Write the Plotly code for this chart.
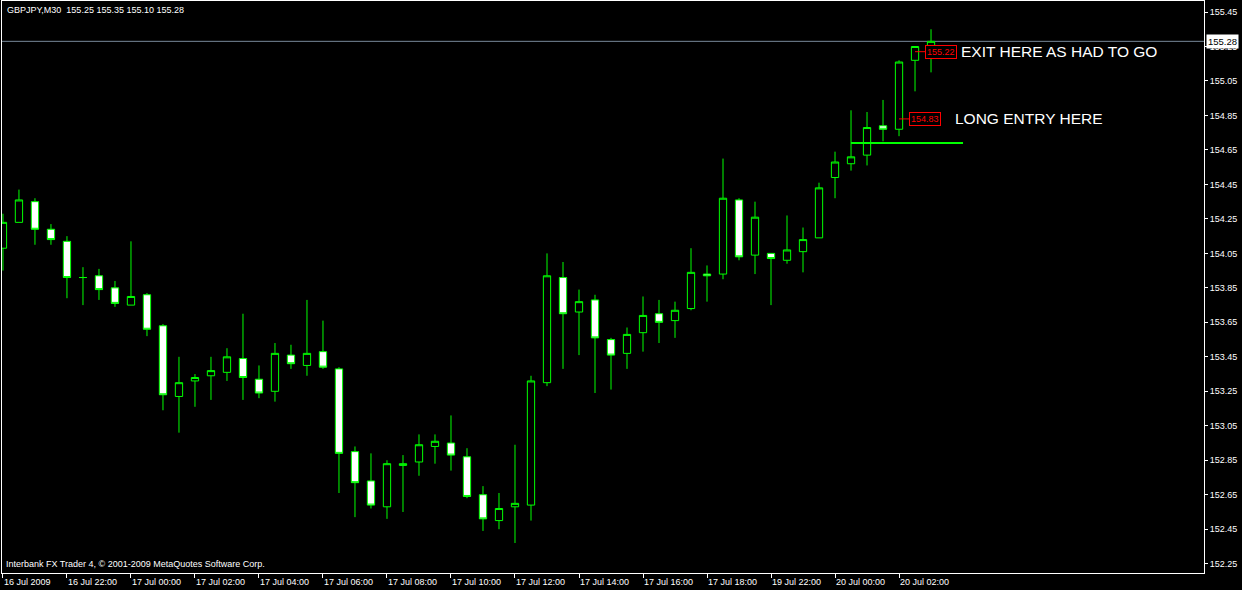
import pandas as pd
import plotly.graph_objects as go

# GBPJPY M30 bars, 16 Jul 20:00 .. 20 Jul 03:00 (weekend gap)
bar_times = list(pd.date_range("2009-07-16 20:00", "2009-07-17 19:30", freq="30min")) + \
    list(pd.date_range("2009-07-19 22:00", "2009-07-20 03:00", freq="30min"))
times = [t.strftime("%d %b %H:%M") for t in bar_times]

opens = [154.08, 154.23, 154.35, 154.19, 154.12, 153.91, 153.92, 153.85, 153.75, 153.81,
         153.63, 153.22, 153.31, 153.34, 153.36, 153.44, 153.32, 153.25, 153.46, 153.40,
         153.48, 153.38, 152.90, 152.73, 152.58, 152.82, 152.84, 152.93, 152.95, 152.87,
         152.65, 152.50, 152.58, 152.59, 153.30, 153.91, 153.71, 153.78, 153.55, 153.47,
         153.59, 153.70, 153.66, 153.73, 153.93, 153.93, 154.36, 154.04, 154.05, 154.01,
         154.06, 154.14, 154.49, 154.57, 154.62, 154.79, 154.77, 155.17, 155.25]
highs = [154.28, 154.42, 154.37, 154.22, 154.15, 153.97, 153.96, 153.89, 154.12, 153.82,
         153.64, 153.45, 153.35, 153.45, 153.50, 153.70, 153.40, 153.53, 153.52, 153.78,
         153.66, 153.39, 152.93, 152.89, 152.85, 152.88, 153.00, 153.00, 153.11, 152.92,
         152.70, 152.66, 152.94, 153.34, 154.05, 154.00, 153.84, 153.81, 153.56, 153.62,
         153.80, 153.78, 153.77, 154.08, 153.98, 154.60, 154.37, 154.35, 154.05, 154.27,
         154.20, 154.46, 154.64, 154.88, 154.87, 154.94, 155.17, 155.25, 155.35]
lows = [153.95, 154.23, 154.10, 154.10, 153.79, 153.75, 153.78, 153.74, 153.75, 153.57,
        153.14, 153.01, 153.16, 153.20, 153.31, 153.20, 153.21, 153.19, 153.38, 153.34,
        153.38, 152.66, 152.52, 152.57, 152.51, 152.55, 152.76, 152.83, 152.79, 152.63,
        152.44, 152.45, 152.37, 152.50, 153.28, 153.38, 153.46, 153.24, 153.26, 153.38,
        153.48, 153.53, 153.56, 153.72, 153.77, 153.90, 154.01, 153.93, 153.75, 153.99,
        153.94, 154.14, 154.37, 154.53, 154.56, 154.70, 154.73, 154.99, 155.10]
closes = [154.23, 154.36, 154.19, 154.13, 153.91, 153.91, 153.84, 153.76, 153.80, 153.61,
          153.23, 153.30, 153.33, 153.37, 153.45, 153.33, 153.24, 153.47, 153.41, 153.47,
          153.39, 152.89, 152.72, 152.59, 152.83, 152.83, 152.94, 152.96, 152.88, 152.64,
          152.51, 152.57, 152.60, 153.31, 153.92, 153.70, 153.77, 153.56, 153.46, 153.58,
          153.69, 153.65, 153.72, 153.94, 153.92, 154.37, 154.03, 154.26, 154.02, 154.07,
          154.13, 154.43, 154.58, 154.61, 154.78, 154.77, 155.16, 155.25, 155.28]

price_ticks = [152.25, 152.45, 152.65, 152.85, 153.05, 153.25, 153.45, 153.65, 153.85,
               154.05, 154.25, 154.45, 154.65, 154.85, 155.05, 155.25, 155.45]
time_tick_labels = ["16 Jul 2009", "16 Jul 22:00", "17 Jul 00:00", "17 Jul 02:00",
                    "17 Jul 04:00", "17 Jul 06:00", "17 Jul 08:00", "17 Jul 10:00",
                    "17 Jul 12:00", "17 Jul 14:00", "17 Jul 16:00", "17 Jul 18:00",
                    "19 Jul 22:00", "20 Jul 00:00", "20 Jul 02:00"]
time_tick_vals = times[::4]

bid_price = 155.28
entry_line_start = "20 Jul 00:30"
entry_line_price = 154.69
entry_line_bars = 7
price_marks = [("20 Jul 02:30", 155.22), ("20 Jul 02:00", 154.83)]
notes = [("EXIT HERE AS HAD TO GO", 155.22, 59.75), ("LONG ENTRY HERE", 154.83, 59.4)]

GREEN = "#00ff00"
FONT = "Liberation Sans"

fig = go.Figure(go.Candlestick(
    x=times, open=opens, high=highs, low=lows, close=closes,
    increasing=dict(line=dict(color=GREEN, width=1), fillcolor="#000000"),
    decreasing=dict(line=dict(color=GREEN, width=1), fillcolor="#ffffff"),
    whiskerwidth=0,
    hoverinfo="skip",
))

# bid line
fig.add_shape(type="line", xref="paper", x0=0, x1=1, y0=bid_price, y1=bid_price,
              line=dict(color="#778899", width=1), layer="below")
fig.add_annotation(xref="paper", x=1, y=bid_price, text="155.28", showarrow=False,
                   xanchor="left", xshift=2, bgcolor="#ffffff", borderpad=1,
                   font=dict(family=FONT, size=9.5, color="#000000"))

# entry trend line
x0 = times.index(entry_line_start)
fig.add_shape(type="line", x0=x0, x1=x0 + entry_line_bars, y0=entry_line_price,
              y1=entry_line_price, line=dict(color=GREEN, width=2))

for t, p in price_marks:
    fig.add_annotation(x=t, y=p, text=f"{p:.2f}", showarrow=True, arrowhead=0,
                       arrowwidth=1, arrowcolor="#ff0000", ax=26, ay=0,
                       bordercolor="#ff0000", borderwidth=1, borderpad=1,
                       bgcolor="#000000", font=dict(family=FONT, size=9, color="#ff0000"))

for txt, p, xi in notes:
    fig.add_annotation(x=xi, y=p, text=txt, showarrow=False, xanchor="left",
                       yanchor="middle", font=dict(family=FONT, size=15.5, color="#ffffff"))

fig.add_annotation(xref="paper", yref="paper", x=0, y=1, xshift=3, yshift=-2,
                   xanchor="left", yanchor="top", showarrow=False,
                   text="GBPJPY,M30  155.25 155.35 155.10 155.28",
                   font=dict(family=FONT, size=9, color="#ffffff"))
fig.add_annotation(xref="paper", yref="paper", x=0, y=0, xshift=2, yshift=2,
                   xanchor="left", yanchor="bottom", showarrow=False,
                   text="Interbank FX Trader 4, © 2001-2009 MetaQuotes Software Corp.",
                   font=dict(family=FONT, size=9, color="#ffffff"))

fig.update_layout(
    width=1242, height=590,
    margin=dict(l=2, r=38, t=1, b=17),
    paper_bgcolor="#000000", plot_bgcolor="#000000",
    showlegend=False, hovermode=False,
    boxgap=0.35,
    font=dict(family=FONT, size=9, color="#ffffff"),
    xaxis=dict(
        type="category", range=[-0.06, 75.06],
        tickvals=time_tick_vals, ticktext=time_tick_labels,
        ticks="outside", ticklen=4, tickcolor="#ffffff",
        ticklabelposition="outside right",
        showgrid=False, zeroline=False,
        showline=True, mirror=True, linecolor="#ffffff", linewidth=1,
        rangeslider=dict(visible=False),
    ),
    yaxis=dict(
        side="right", range=[152.196, 155.514],
        tickvals=price_ticks, ticktext=[f"{v:.2f}" for v in price_ticks],
        ticks="outside", ticklen=3, tickcolor="#ffffff",
        showgrid=False, zeroline=False,
        showline=True, mirror=True, linecolor="#ffffff", linewidth=1,
    ),
)

# page body has a default 8px margin; drop it so the chart sits at 0,0
fig.write_html("out.html", config={"displayModeBar": False},
               post_script="document.body.style.margin='0';")
